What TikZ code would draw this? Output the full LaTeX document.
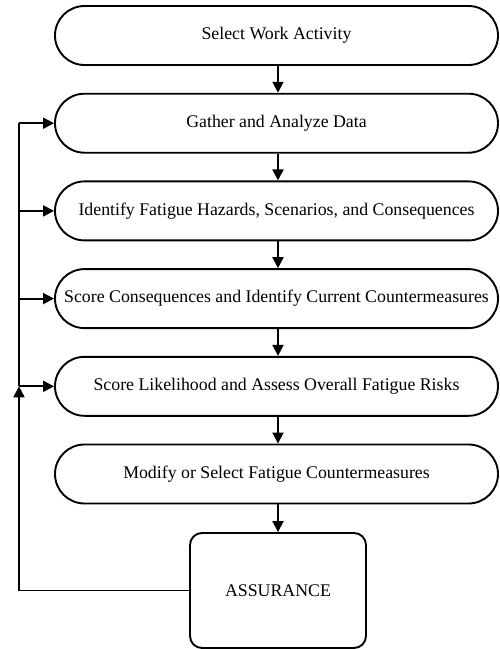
\documentclass[tikz,border=0pt]{standalone}
\usepackage{fontspec}
\setmainfont{Liberation Serif}
\usetikzlibrary{arrows.meta}
\begin{document}
\begin{tikzpicture}[x=1pt,y=-1pt,line width=1.9pt,
  stadium/.style={draw, rounded corners=29.5pt, minimum width=443pt, minimum height=59pt,
    inner sep=0pt, font=\fontsize{17.8}{21}\selectfont},
  assurebox/.style={draw, rounded corners=12pt, minimum width=176pt, minimum height=115pt,
    inner sep=0pt, font=\fontsize{17.8}{21}\selectfont},
  arr/.style={-{Triangle[length=11pt,width=11pt]}}]
\fill[white] (0,0) rectangle (499,649);
\useasboundingbox (0,0) rectangle (499,649);
\node[stadium] (b1) at (276.5,35.5) {Select Work Activity};
\node[stadium] (b2) at (276.5,123.2) {Gather and Analyze Data};
\node[stadium] (b3) at (276.5,210.9) {Identify Fatigue Hazards, Scenarios, and Consequences};
\node[stadium] (b4) at (276.5,298.6) {Score Consequences and Identify Current Countermeasures};
\node[stadium] (b5) at (276.5,386.3) {Score Likelihood and Assess Overall Fatigue Risks};
\node[stadium] (b6) at (276.5,474) {Modify or Select Fatigue Countermeasures};
\node[assurebox] (as) at (278,590.5) {ASSURANCE};
\draw[arr] (b1.south -| as.north) -- (b2.north -| as.north);
\draw[arr] (b2.south -| as.north) -- (b3.north -| as.north);
\draw[arr] (b3.south -| as.north) -- (b4.north -| as.north);
\draw[arr] (b4.south -| as.north) -- (b5.north -| as.north);
\draw[arr] (b5.south -| as.north) -- (b6.north -| as.north);
\draw[arr] (b6.south -| as.north) -- (as.north);
\coordinate (l5) at (19,386.3);
\coordinate (l4) at (19,298.6);
\coordinate (l3) at (19,210.9);
\coordinate (l2) at (19,123.2);
\draw[arr] (as.west) -| (l5);
\draw (l5) -- (l2);
\draw[arr] (l2) -- (b2.west);
\draw[arr] (l3) -- (b3.west);
\draw[arr] (l4) -- (b4.west);
\draw[arr] (l5) -- (b5.west);
\end{tikzpicture}
\end{document}
